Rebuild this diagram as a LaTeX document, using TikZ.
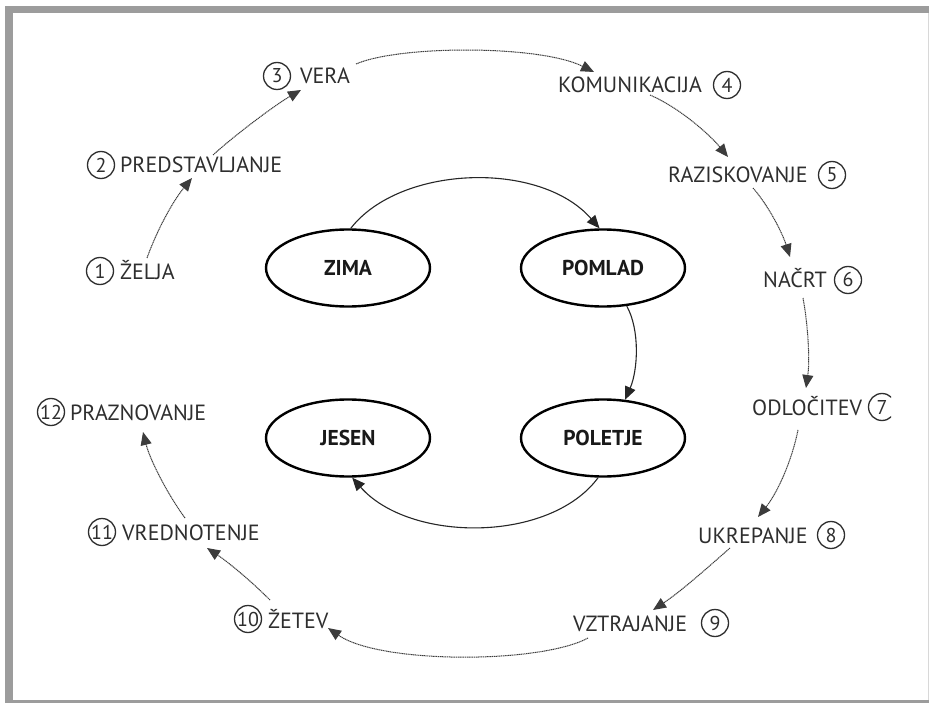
\documentclass[tikz,border=0pt]{standalone}
\usepackage{fontspec}
\setmainfont{PT Sans}
\usetikzlibrary{arrows.meta,shapes.geometric}
\definecolor{framegray}{HTML}{9C9C9C}
\definecolor{edgegray}{HTML}{D8D8D8}
\definecolor{labelgray}{HTML}{2E2E2E}
\definecolor{dotgray}{HTML}{3C3C3C}
\tikzset{
  season/.style={ellipse, draw=black, line width=2.4pt, minimum width=164pt,
    minimum height=77pt, inner sep=0pt,
    font=\fontsize{21.5}{24}\selectfont\bfseries, text=black!90},
  stagelabel/.style={anchor=base west, inner sep=0pt,
    font=\fontsize{22}{25}\selectfont, text=labelgray},
  stagenum/.style={circle, draw=labelgray, line width=1.3pt, minimum size=27pt,
    inner sep=0pt, font=\fontsize{20}{22}\selectfont, text=labelgray},
  cyclearrow/.style={draw=black!85, line width=1.1pt,
    -{Triangle[length=13pt,width=11pt]}},
  stagearrow/.style={draw=dotgray, line width=1pt,
    dash pattern=on 1.2pt off 0.6pt, -{Triangle[length=13pt,width=11pt]}},
}
\begin{document}
\begin{tikzpicture}[x=1pt,y=-1pt]
\useasboundingbox (0,0) rectangle (929,703);
% frame
\fill[framegray] (5,6) rectangle (929,703);
\fill[edgegray] (927,13) rectangle (929,700);
\fill[white] (13,13) rectangle (927.5,700);

% seasons
\node[season] (zima)    at (348,268) {ZIMA};
\node[season] (pomlad)  at (603,268) {POMLAD};
\node[season] (jesen)   at (348,438) {JESEN};
\node[season] (poletje) at (603,438) {POLETJE};

\draw[cyclearrow] (zima.86) .. controls (400,165) and (540,160) .. (pomlad.95);
\draw[cyclearrow] (pomlad.-58) .. controls (640,330) and (638,370) .. (poletje.60);
\draw[cyclearrow] (poletje.-97) .. controls (550,543) and (410,543) .. (jesen.-84);

% stages
\node[stagelabel] (lab1)  at (120,280) {ŽELJA};
\node[stagenum]   (num1)  at (100,271) {1};
\node[stagelabel] (lab2)  at (120,173) {PREDSTAVLJANJE};
\node[stagenum]   (num2)  at (101,165) {2};
\node[stagelabel] (lab3)  at (300,84)  {VERA};
\node[stagenum]   (num3)  at (277,76)  {3};
\node[stagelabel] (lab4)  at (558,93)  {KOMUNIKACIJA};
\node[stagenum]   (num4)  at (727,85)  {4};
\node[stagelabel] (lab5)  at (668,183) {RAZISKOVANJE};
\node[stagenum]   (num5)  at (832,175) {5};
\node[stagelabel] (lab6)  at (763,288) {NAČRT};
\node[stagenum]   (num6)  at (848,280) {6};
\node[stagelabel] (lab7)  at (752,415) {ODLOČITEV};
\begin{scope}
  \clip (860,385) rectangle (891,430);
  \node[stagenum] (num7) at (882,407) {7};
\end{scope}
\node[stagelabel] (lab8)  at (698,543) {UKREPANJE};
\node[stagenum]   (num8)  at (831,535) {8};
\node[stagelabel] (lab9)  at (573,631) {VZTRAJANJE};
\node[stagenum]   (num9)  at (715,623) {9};
\node[stagelabel] (lab10) at (268,628) {ŽETEV};
\node[stagenum]   (num10) at (248,619) {10};
\node[stagelabel] (lab11) at (122,540) {VREDNOTENJE};
\node[stagenum]   (num11) at (102,532) {11};
\node[stagelabel] (lab12) at (70,420)  {PRAZNOVANJE};
\node[stagenum]   (num12) at (51,412)  {12};

% connector ends
\coordinate (s1) at (147,258);  \coordinate (e1) at (192,178);
\coordinate (s2) at (213,155);  \coordinate (e2) at (301,90);
\coordinate (s3) at (356,64);   \coordinate (e3) at (594,72);
\coordinate (s4) at (650,95);   \coordinate (e4) at (728,157);
\coordinate (s5) at (753,188);  \coordinate (e5) at (790,257);
\coordinate (s6) at (803,298);  \coordinate (e6) at (806,388);
\coordinate (s7) at (798,430);  \coordinate (e7) at (758,517);
\coordinate (s8) at (730,548);  \coordinate (e8) at (653,610);
\coordinate (s9) at (588,638);  \coordinate (e9) at (328,628);
\coordinate (s10) at (270,600); \coordinate (e10) at (207,548);
\coordinate (s11) at (185,518); \coordinate (e11) at (143,432);

\draw[stagearrow] (s1) .. controls (157,230) and (173,201) .. (e1);
\draw[stagearrow] (s2) .. controls (235,135) and (275,105) .. (e2);
\draw[stagearrow] (s3) .. controls (400,45) and (540,45) .. (e3);
\draw[stagearrow] (s4) .. controls (680,108) and (710,135) .. (e4);
\draw[stagearrow] (s5) .. controls (768,205) and (782,232) .. (e5);
\draw[stagearrow] (s6) .. controls (808,325) and (810,360) .. (e6);
\draw[stagearrow] (s7) .. controls (792,460) and (778,492) .. (e7);
\draw[stagearrow] (s8) .. controls (705,570) and (680,592) .. (e8);
\draw[stagearrow] (s9) .. controls (540,664) and (380,664) .. (e9);
\draw[stagearrow] (s10) .. controls (250,580) and (228,562) .. (e10);
\draw[stagearrow] (s11) .. controls (168,495) and (150,460) .. (e11);
\end{tikzpicture}
\end{document}
